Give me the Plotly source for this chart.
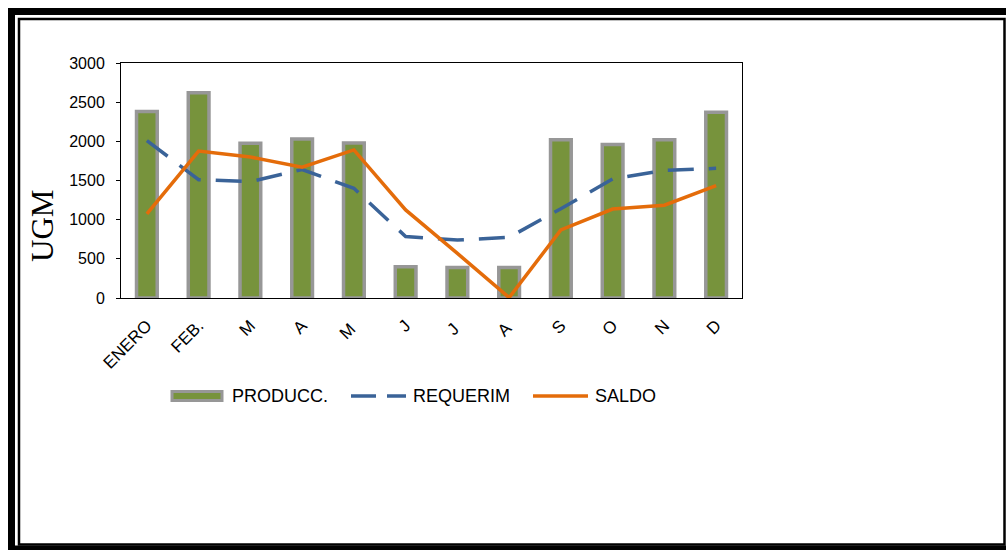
import plotly.graph_objects as go

months = ["ENERO", "FEB.", "M", "A", "M ", "J", "J ", "A ", "S", "O", "N", "D"]
produccion = [2380, 2620, 1975, 2030, 1980, 400, 390, 390, 2020, 1960, 2020, 2370]
requerim = [2010, 1510, 1485, 1640, 1400, 785, 740, 775, 1140, 1520, 1630, 1655]
saldo = [1075, 1875, 1800, 1670, 1890, 1125, 570, 5, 870, 1135, 1185, 1435]

series_names = ["PRODUCC.", "REQUERIM", "SALDO"]
y_ticks = [0, 500, 1000, 1500, 2000, 2500, 3000]

GREEN = "#77933C"
GRAY = "#979797"
BLUE = "#3A6398"
ORANGE = "#E46C0A"
FONT = "Arial, 'Liberation Sans', sans-serif"
DASH = "26px,15px"

W, H = 1006, 550
L, R, T, B = 121, 742, 63, 298  # plot area in pixels


def px(x):
    return (x - L) / (R - L)


def py(y):
    return (B - y) / (B - T)


fig = go.Figure()
fig.add_trace(go.Bar(
    x=months, y=produccion, name=series_names[0],
    width=0.4,
    marker=dict(color=GREEN, line=dict(color=GRAY, width=3.5)),
))
fig.add_trace(go.Scatter(
    x=months, y=requerim, name=series_names[1], mode="lines",
    line=dict(color=BLUE, width=3.5, dash=DASH),
))
fig.add_trace(go.Scatter(
    x=months, y=saldo, name=series_names[2], mode="lines",
    line=dict(color=ORANGE, width=3.5),
))

shapes = [
    # outer thick frame
    dict(type="rect", xref="paper", yref="paper",
         x0=px(11.5), x1=px(1012), y0=py(11.5), y1=py(549),
         line=dict(color="black", width=7), fillcolor="rgba(0,0,0,0)", layer="above"),
    # inner thin frame
    dict(type="rect", xref="paper", yref="paper",
         x0=px(19), x1=px(1004.5), y0=py(19), y1=py(544.5),
         line=dict(color="black", width=2.5), fillcolor="rgba(0,0,0,0)", layer="above"),
    # legend keys
    dict(type="rect", xref="paper", yref="paper",
         x0=px(172), x1=px(222), y0=py(391.5), y1=py(400.5),
         line=dict(color=GRAY, width=3), fillcolor=GREEN),
    dict(type="line", xref="paper", yref="paper",
         x0=px(351), x1=px(406), y0=py(396), y1=py(396),
         line=dict(color=BLUE, width=3.5, dash="25px,11px")),
    dict(type="line", xref="paper", yref="paper",
         x0=px(533), x1=px(588), y0=py(396), y1=py(396),
         line=dict(color=ORANGE, width=3.5)),
]

legend_text_x = [230, 411, 593]
annotations = [dict(
    text="UGM", xref="paper", yref="paper", x=px(42), y=py(226),
    xanchor="center", yanchor="middle", textangle=-90, showarrow=False,
    font=dict(family="'Liberation Serif', 'Times New Roman', serif", size=31, color="black"),
)]
for name, tx in zip(series_names, legend_text_x):
    annotations.append(dict(
        text=name, xref="paper", yref="paper", x=px(tx), y=py(396),
        xanchor="left", yanchor="middle", showarrow=False,
        font=dict(family=FONT, size=18, color="black"),
    ))

fig.update_layout(
    width=W, height=H,
    margin=dict(l=L, r=W - R, t=T, b=H - B, pad=0),
    paper_bgcolor="white", plot_bgcolor="white",
    showlegend=False,
    xaxis=dict(
        type="category", tickangle=-45, showline=True, linecolor="black", linewidth=1,
        mirror=True, ticks="", showgrid=False, ticklabelstandoff=10,
        tickfont=dict(family=FONT, size=17, color="black"),
    ),
    yaxis=dict(
        range=[0, 3000], tickvals=y_ticks, ticktext=[str(v) for v in y_ticks],
        showline=True, linecolor="black", linewidth=1, mirror=True,
        ticks="outside", ticklen=4, tickcolor="black", showgrid=False,
        ticklabelstandoff=8,
        tickfont=dict(family=FONT, size=16, color="black"), zeroline=False,
    ),
    annotations=annotations,
    shapes=shapes,
)

fig.write_html("out.html")
